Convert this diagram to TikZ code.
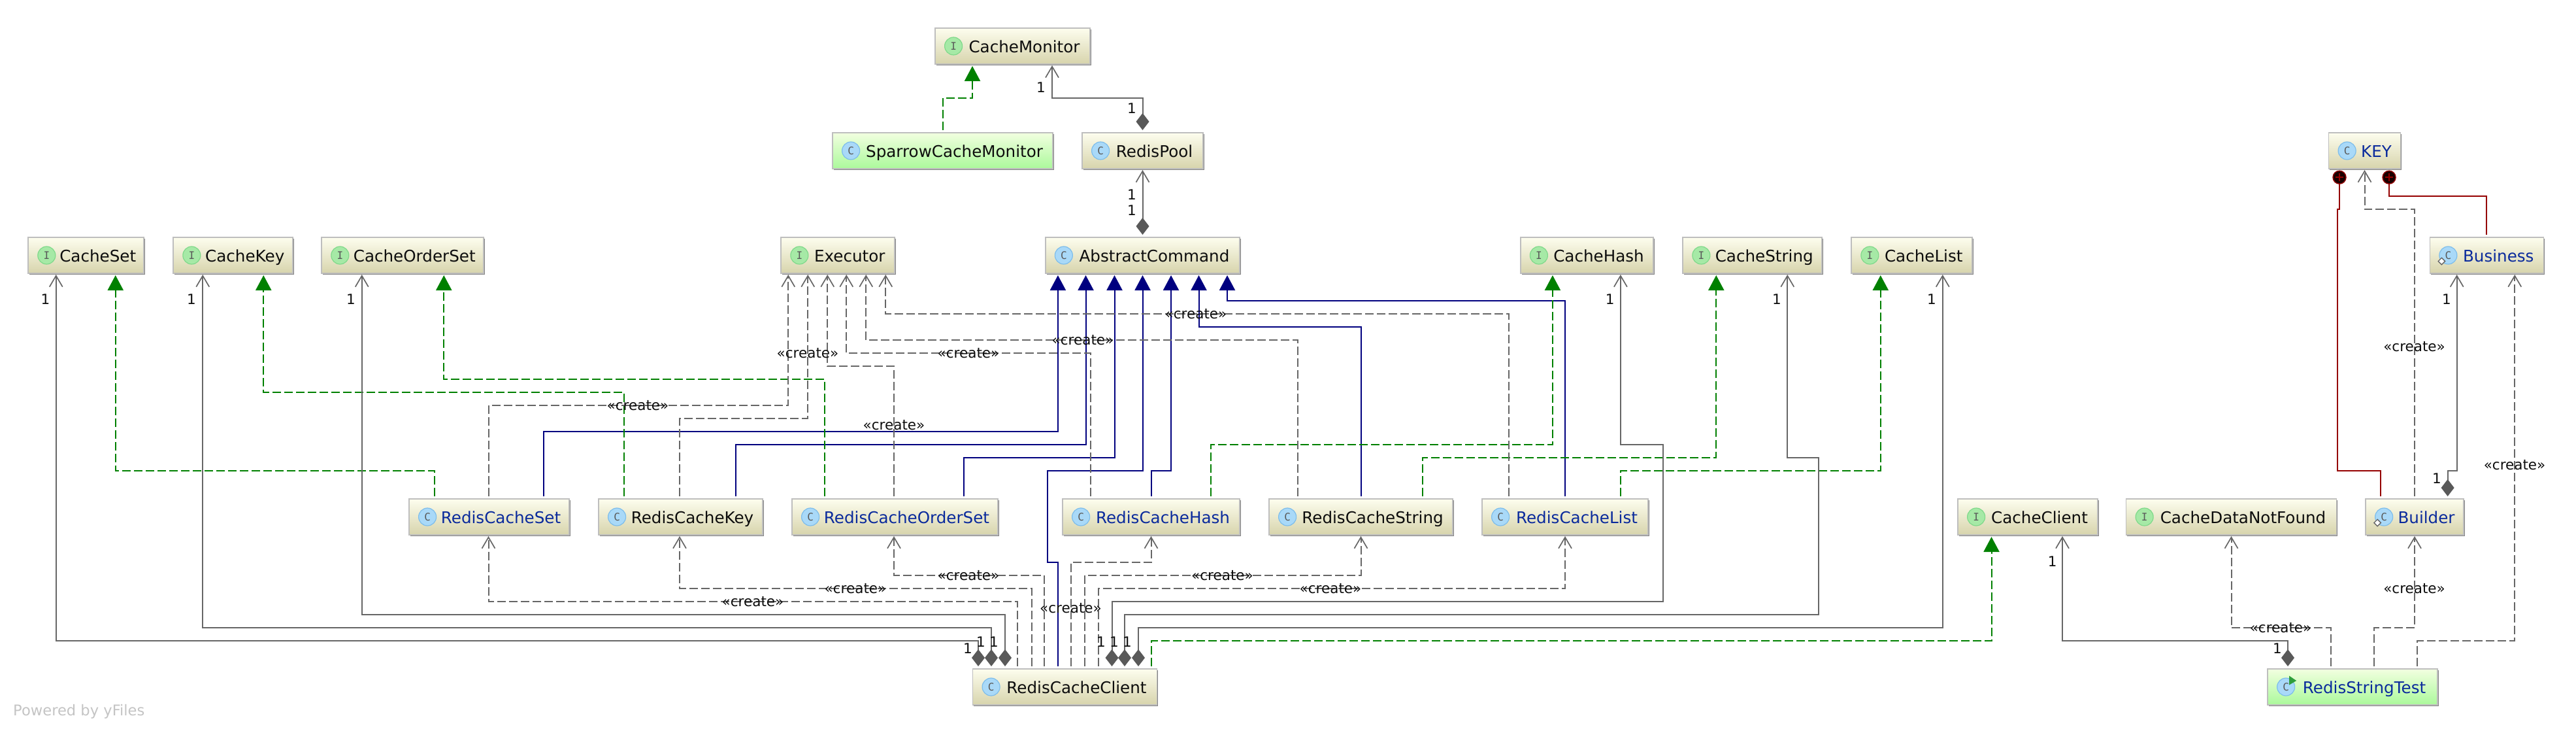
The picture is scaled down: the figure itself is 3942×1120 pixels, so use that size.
\documentclass[tikz,border=0pt]{standalone}
\usepackage{fontspec}
\setmainfont{DejaVu Sans}
\newfontfamily\iconfont{DejaVu Sans Mono}
\usepackage{tikz}
\usetikzlibrary{positioning}
\usetikzlibrary{shapes.geometric, arrows.meta, shadows}

\definecolor{boxtop}{HTML}{FDFDEE}
\definecolor{boxbottom}{HTML}{D7D4AC}
\definecolor{testtop}{HTML}{F2FFE0}
\definecolor{testbottom}{HTML}{ABF99B}
\definecolor{boxline}{HTML}{BEBEBE}
\definecolor{boxshadow}{HTML}{858585}
\definecolor{classblue}{HTML}{0A2A9C}
\definecolor{linegray}{HTML}{666666}
\definecolor{tipgray}{HTML}{595959}
\definecolor{implgreen}{HTML}{008000}
\definecolor{extblue}{HTML}{00007F}
\definecolor{nestred}{HTML}{950000}
\definecolor{iconblue}{HTML}{A9D9F8}
\definecolor{iconblueline}{HTML}{7DBDEB}
\definecolor{icongreen}{HTML}{A6E9A6}
\definecolor{icongreenline}{HTML}{7FD98A}
\definecolor{flaggreen}{HTML}{2E9E3C}

\tikzstyle{box} = [draw=boxline,line width=1.6pt,top color=boxtop,bottom color=boxbottom,minimum height=55pt,inner sep=0pt,outer sep=0pt,text height=24pt,text depth=5pt,font=\fontsize{24.6}{28}\selectfont,text=black!95,execute at begin node={\hspace*{36pt}},drop shadow={shadow xshift=1.8pt,shadow yshift=-2.4pt,fill=boxshadow,opacity=1}]
\tikzstyle{testbox} = [box,top color=testtop,bottom color=testbottom]
\tikzstyle{bluename} = [text=classblue]
\tikzstyle{icon} = [circle,line width=1.2pt,minimum size=27pt,inner sep=0pt,font=\iconfont\fontsize{16}{16}\selectfont,text=black!65]
\tikzstyle{iconI} = [icon,draw=icongreenline,fill=icongreen]
\tikzstyle{iconC} = [icon,draw=iconblueline,fill=iconblue]
\tikzstyle{lbl} = [inner sep=0pt,font=\fontsize{21.5}{24}\selectfont,text=black!95]
\tikzstyle{implements} = [implgreen,line width=2pt,dash pattern=on 13pt off 5pt,shorten <=4pt,shorten >=3pt,-{Triangle[length=23pt,width=24pt,sep=0pt]}]
\tikzstyle{inherits} = [extblue,line width=2pt,shorten <=4pt,shorten >=3pt,-{Triangle[length=23pt,width=24pt]}]
\tikzstyle{create} = [linegray,line width=2pt,dash pattern=on 13pt off 5pt,shorten <=4pt,shorten >=2pt,-{Straight Barb[length=17pt,width=20pt,line width=1.7pt]}]
\tikzstyle{holds} = [linegray,line width=2pt,shorten <=4pt,shorten >=2pt,{Diamond[length=26pt,width=20pt,tipgray]}-{Straight Barb[length=17pt,width=20pt,line width=1.7pt]}]
\tikzstyle{nested} = [nestred,line width=2pt,shorten <=4pt]
\tikzstyle{nestdot} = [circle,draw=nestred,line width=1.4pt,fill=black!90!red,minimum size=20pt,inner sep=0pt,path picture={\draw[nestred,line width=2pt] ([xshift=-6pt]path picture bounding box.center) -- ([xshift=6pt]path picture bounding box.center) ([yshift=-6pt]path picture bounding box.center) -- ([yshift=6pt]path picture bounding box.center);}]
\tikzstyle{staticmark} = [diamond,draw=black!60,fill=white,line width=1.3pt,minimum width=11pt,minimum height=11pt,inner sep=0pt]

\begin{document}
\begin{tikzpicture}[x=1pt,y=-1pt]
	\useasboundingbox (0,0) rectangle (3942,1120);

	%Nodes
	\node [box,minimum width=237pt,anchor=north west] (CacheMonitor) at (1431,43) {CacheMonitor};
	\node [testbox,minimum width=337pt,anchor=north west] (SparrowCacheMonitor) at (1274,203) {SparrowCacheMonitor};
	\node [box,minimum width=185pt,right=45pt of SparrowCacheMonitor] (RedisPool) {RedisPool};
	\node [box,minimum width=297.5pt,below=105pt of RedisPool] (AbstractCommand) {AbstractCommand};
	\node [box,minimum width=174pt,left=230.5pt of AbstractCommand] (Executor) {Executor};
	\node [box,minimum width=248pt,left=455pt of Executor] (CacheOrderSet) {CacheOrderSet};
	\node [box,minimum width=183pt,left=44pt of CacheOrderSet] (CacheKey) {CacheKey};
	\node [box,minimum width=177pt,left=45pt of CacheKey] (CacheSet) {CacheSet};
	\node [box,minimum width=203.5pt,right=429.5pt of AbstractCommand] (CacheHash) {CacheHash};
	\node [box,minimum width=213pt,right=45pt of CacheHash] (CacheString) {CacheString};
	\node [box,minimum width=185pt,right=45pt of CacheString] (CacheList) {CacheList};
	\node [box,bluename,minimum width=174pt,right=700pt of CacheList] (Business) {Business};
	\node [box,bluename,minimum width=110pt,anchor=north west] (KEY) at (3563.5,203) {KEY};

	\node [box,bluename,minimum width=245pt,anchor=north west] (RedisCacheSet) at (626,763) {RedisCacheSet};
	\node [box,minimum width=251pt,right=45pt of RedisCacheSet] (RedisCacheKey) {RedisCacheKey};
	\node [box,bluename,minimum width=315pt,right=45pt of RedisCacheKey] (RedisCacheOrderSet) {RedisCacheOrderSet};
	\node [box,bluename,minimum width=271pt,right=99pt of RedisCacheOrderSet] (RedisCacheHash) {RedisCacheHash};
	\node [box,minimum width=281pt,right=45pt of RedisCacheHash] (RedisCacheString) {RedisCacheString};
	\node [box,bluename,minimum width=254pt,right=45pt of RedisCacheString] (RedisCacheList) {RedisCacheList};
	\node [box,minimum width=214pt,right=474pt of RedisCacheList] (CacheClient) {CacheClient};
	\node [box,minimum width=322pt,right=43.5pt of CacheClient] (CacheDataNotFound) {CacheDataNotFound};
	\node [box,bluename,minimum width=150pt,right=44.5pt of CacheDataNotFound] (Builder) {Builder};

	\node [box,minimum width=282pt,anchor=north west] (RedisCacheClient) at (1488.5,1023) {RedisCacheClient};
	\node [testbox,bluename,minimum width=260pt,right=1699.5pt of RedisCacheClient] (RedisStringTest) {RedisStringTest};

	\node [lbl,anchor=west,font=\fontsize{22.6}{26}\selectfont,text=black!23] (poweredBy) at (20,1088) {Powered by yFiles};

	%Icons
	\node [iconI,right=14pt of CacheMonitor.west] (CacheMonitorIcon) {I};
	\node [iconC,right=14pt of SparrowCacheMonitor.west] (SparrowCacheMonitorIcon) {C};
	\node [iconC,right=14pt of RedisPool.west] (RedisPoolIcon) {C};
	\node [iconC,right=14pt of AbstractCommand.west] (AbstractCommandIcon) {C};
	\node [iconI,right=14pt of Executor.west] (ExecutorIcon) {I};
	\node [iconI,right=14pt of CacheOrderSet.west] (CacheOrderSetIcon) {I};
	\node [iconI,right=14pt of CacheKey.west] (CacheKeyIcon) {I};
	\node [iconI,right=14pt of CacheSet.west] (CacheSetIcon) {I};
	\node [iconI,right=14pt of CacheHash.west] (CacheHashIcon) {I};
	\node [iconI,right=14pt of CacheString.west] (CacheStringIcon) {I};
	\node [iconI,right=14pt of CacheList.west] (CacheListIcon) {I};
	\node [iconC,right=14pt of Business.west] (BusinessIcon) {C};
	\node [iconC,right=14pt of KEY.west] (KEYIcon) {C};
	\node [iconC,right=14pt of RedisCacheSet.west] (RedisCacheSetIcon) {C};
	\node [iconC,right=14pt of RedisCacheKey.west] (RedisCacheKeyIcon) {C};
	\node [iconC,right=14pt of RedisCacheOrderSet.west] (RedisCacheOrderSetIcon) {C};
	\node [iconC,right=14pt of RedisCacheHash.west] (RedisCacheHashIcon) {C};
	\node [iconC,right=14pt of RedisCacheString.west] (RedisCacheStringIcon) {C};
	\node [iconC,right=14pt of RedisCacheList.west] (RedisCacheListIcon) {C};
	\node [iconI,right=14pt of CacheClient.west] (CacheClientIcon) {I};
	\node [iconI,right=14pt of CacheDataNotFound.west] (CacheDataNotFoundIcon) {I};
	\node [iconC,right=14pt of Builder.west] (BuilderIcon) {C};
	\node [iconC,right=14pt of RedisCacheClient.west] (RedisCacheClientIcon) {C};
	\node [iconC,right=14pt of RedisStringTest.west] (RedisStringTestIcon) {C};
	\node [staticmark,xshift=-10pt,yshift=-9pt] (BusinessMark) at (BusinessIcon.center) {};
	\node [staticmark,xshift=-10pt,yshift=-9pt] (BuilderMark) at (BuilderIcon.center) {};
	\fill[flaggreen] ([shift={(5pt,17pt)}]RedisStringTestIcon.center) -- ([shift={(16pt,9.5pt)}]RedisStringTestIcon.center) -- ([shift={(5pt,3pt)}]RedisStringTestIcon.center) -- cycle;

	\node [nestdot,below=2.5pt of KEY.south,xshift=-38.5pt] (KEYdotBuilder) {};
	\node [nestdot,below=2.5pt of KEY.south,xshift=37.5pt] (KEYdotBusiness) {};

	%Lines to the top
	\draw[implements] (SparrowCacheMonitor.north) -- ++(0,-53) -| ([xshift=-61.5pt]CacheMonitor.south);
	\draw[holds] (RedisPool.north) -- ++(0,-53) -| ([xshift=60.5pt]CacheMonitor.south);
	\draw[holds] (AbstractCommand.north) -- (RedisPool.south);

	%Lines to AbstractCommand
	\draw[inherits] ([xshift=83pt]RedisCacheSet.north) -- ++(0,-103) -| ([xshift=-129.6pt]AbstractCommand.south);
	\draw[inherits] ([xshift=84.5pt]RedisCacheKey.north) -- ++(0,-83) -| ([xshift=-87pt]AbstractCommand.south);
	\draw[inherits] ([xshift=105.5pt]RedisCacheOrderSet.north) -- ++(0,-63) -| ([xshift=-43pt]AbstractCommand.south);
	\draw[inherits] ([xshift=-10.5pt]RedisCacheClient.north) -- ++(0,-163) -- ++(-16,0) -- ++(0,-140) -| (AbstractCommand.south);
	\draw[inherits] (RedisCacheHash.north) -- ++(0,-43) -| ([xshift=43.5pt]AbstractCommand.south);
	\draw[inherits] (RedisCacheString.north) -- ++(0,-263) -| ([xshift=86pt]AbstractCommand.south);
	\draw[inherits] (RedisCacheList.north) -- ++(0,-303) -| ([xshift=129.5pt]AbstractCommand.south);

	%Lines to the interfaces
	\draw[implements] ([xshift=-84pt]RedisCacheSet.north) -- ++(0,-43) -| ([xshift=45pt]CacheSet.south);
	\draw[implements] ([xshift=-86.5pt]RedisCacheKey.north) -- ++(0,-163) -| ([xshift=46.5pt]CacheKey.south);
	\draw[implements] ([xshift=-107.5pt]RedisCacheOrderSet.north) -- ++(0,-183) -| ([xshift=63pt]CacheOrderSet.south);
	\draw[implements] ([xshift=91.5pt]RedisCacheHash.north) -- ++(0,-83) -| ([xshift=-52.6pt]CacheHash.south);
	\draw[implements] ([xshift=94.5pt]RedisCacheString.north) -- ++(0,-63) -| ([xshift=-55.5pt]CacheString.south);
	\draw[implements] ([xshift=85pt]RedisCacheList.north) -- ++(0,-43) -| ([xshift=-48pt]CacheList.south);
	\draw[implements] ([xshift=132.5pt]RedisCacheClient.north) -- ++(0,-43) -| ([xshift=-55.5pt]CacheClient.south);

	%Lines to Executor
	\draw[create] ([xshift=-1pt]RedisCacheSet.north) -- ++(0,-143) -| ([xshift=-76pt]Executor.south);
	\draw[create] ([xshift=-1.5pt]RedisCacheKey.north) -- ++(0,-123) -| ([xshift=-46pt]Executor.south);
	\draw[create] ([xshift=-1.5pt]RedisCacheOrderSet.north) -- ++(0,-203) -| ([xshift=-16pt]Executor.south);
	\draw[create] ([xshift=-92.5pt]RedisCacheHash.north) -- ++(0,-223) -| ([xshift=13pt]Executor.south);
	\draw[create] ([xshift=-96.5pt]RedisCacheString.north) -- ++(0,-243) -| ([xshift=43pt]Executor.south);
	\draw[create] ([xshift=-86pt]RedisCacheList.north) -- ++(0,-283) -| ([xshift=73pt]Executor.south);

	%Lines from RedisCacheClient
	\draw[create] ([xshift=-72.5pt]RedisCacheClient.north) -- ++(0,-103) -| ([xshift=-1pt]RedisCacheSet.south);
	\draw[create] ([xshift=-51pt]RedisCacheClient.north) -- ++(0,-123) -| ([xshift=-1.5pt]RedisCacheKey.south);
	\draw[create] ([xshift=-31.5pt]RedisCacheClient.north) -- ++(0,-143) -| ([xshift=-1.5pt]RedisCacheOrderSet.south);
	\draw[create] ([xshift=9.5pt]RedisCacheClient.north) -- ++(0,-163) -| (RedisCacheHash.south);
	\draw[create] ([xshift=30.5pt]RedisCacheClient.north) -- ++(0,-143) -| (RedisCacheString.south);
	\draw[create] ([xshift=51pt]RedisCacheClient.north) -- ++(0,-123) -| (RedisCacheList.south);
	\draw[holds] ([xshift=-132.5pt]RedisCacheClient.north) -- ++(0,-43) -| ([xshift=-46pt]CacheSet.south);
	\draw[holds] ([xshift=-112.5pt]RedisCacheClient.north) -- ++(0,-63) -| ([xshift=-46.5pt]CacheKey.south);
	\draw[holds] ([xshift=-91.5pt]RedisCacheClient.north) -- ++(0,-83) -| ([xshift=-62.5pt]CacheOrderSet.south);
	\draw[holds] ([xshift=72pt]RedisCacheClient.north) -- ++(0,-103) -- ++(843,0) -- ++(0,-240) -| ([xshift=51.4pt]CacheHash.south);
	\draw[holds] ([xshift=91.5pt]RedisCacheClient.north) -- ++(0,-83) -- ++(1061.5,0) -- ++(0,-240) -| ([xshift=53.5pt]CacheString.south);
	\draw[holds] ([xshift=112.5pt]RedisCacheClient.north) -- ++(0,-63) -| ([xshift=47pt]CacheList.south);

	%Lines on the right
	\draw[holds] ([xshift=-99pt]RedisStringTest.north) -- ++(0,-43) -| ([xshift=53pt]CacheClient.south);
	\draw[create] ([xshift=-33pt]RedisStringTest.north) -- ++(0,-63) -| (CacheDataNotFound.south);
	\draw[create] ([xshift=33pt]RedisStringTest.north) -- ++(0,-63) -| (Builder.south);
	\draw[create] ([xshift=99pt]RedisStringTest.north) -- ++(0,-43) -| ([xshift=43pt]Business.south);
	\draw[create] (Builder.north) -- ++(0,-443) -| (KEY.south);
	\draw[holds] ([xshift=50.6pt]Builder.north) -- ++(0,-43) -| ([xshift=-45.6pt]Business.south);
	\draw[nested] ([xshift=-51.6pt]Builder.north) -- ++(0,-43) -- ++(-66.4,0) -- ++(0,-400) -| (KEYdotBuilder.south);
	\draw[nested] (Business.north) -- ++(0,-63) -| (KEYdotBusiness.south);

	%Labels
	\node [lbl] (oneMonitor) at (1593,134) {1};
	\node [lbl] (onePoolUp) at (1732,166) {1};
	\node [lbl] (onePool) at (1732,298) {1};
	\node [lbl] (oneCommand) at (1732,322) {1};
	\node [lbl] (oneSet) at (69.5,458) {1};
	\node [lbl] (oneKey) at (293,458) {1};
	\node [lbl] (oneOrderSet) at (537,458) {1};
	\node [lbl] (oneHash) at (2463.6,458) {1};
	\node [lbl] (oneString) at (2719,458) {1};
	\node [lbl] (oneList) at (2956,458) {1};
	\node [lbl] (oneClientSet) at (1481,992) {1};
	\node [lbl] (oneClientKey) at (1501,982) {1};
	\node [lbl] (oneClientOrderSet) at (1521,982) {1};
	\node [lbl] (oneClientHash) at (1685,982) {1};
	\node [lbl] (oneClientString) at (1705,982) {1};
	\node [lbl] (oneClientList) at (1725,982) {1};
	\node [lbl] (oneCacheClient) at (3140.6,859) {1};
	\node [lbl] (oneTest) at (3485,992) {1};
	\node [lbl] (oneBusiness) at (3743.8,458) {1};
	\node [lbl] (oneBuilder) at (3729,732) {1};

	\node [lbl] (createSet) at (976,620) {«create»};
	\node [lbl] (createKey) at (1236,540) {«create»};
	\node [lbl] (createOrderSet) at (1368,650) {«create»};
	\node [lbl] (createHash) at (1482,540) {«create»};
	\node [lbl] (createString) at (1657,520) {«create»};
	\node [lbl] (createList) at (1830,480) {«create»};
	\node [lbl] (createClientSet) at (1152,920) {«create»};
	\node [lbl] (createClientKey) at (1309,900) {«create»};
	\node [lbl] (createClientOrderSet) at (1482,880) {«create»};
	\node [lbl] (createClientHash) at (1638.5,930) {«create»};
	\node [lbl] (createClientString) at (1870.5,880) {«create»};
	\node [lbl] (createClientList) at (2036,900) {«create»};
	\node [lbl] (createNotFound) at (3490,960) {«create»};
	\node [lbl] (createBuilder) at (3694.5,900) {«create»};
	\node [lbl] (createBusiness) at (3848,710.6) {«create»};
	\node [lbl] (createKEY) at (3694.5,530) {«create»};
\end{tikzpicture}
\end{document}
